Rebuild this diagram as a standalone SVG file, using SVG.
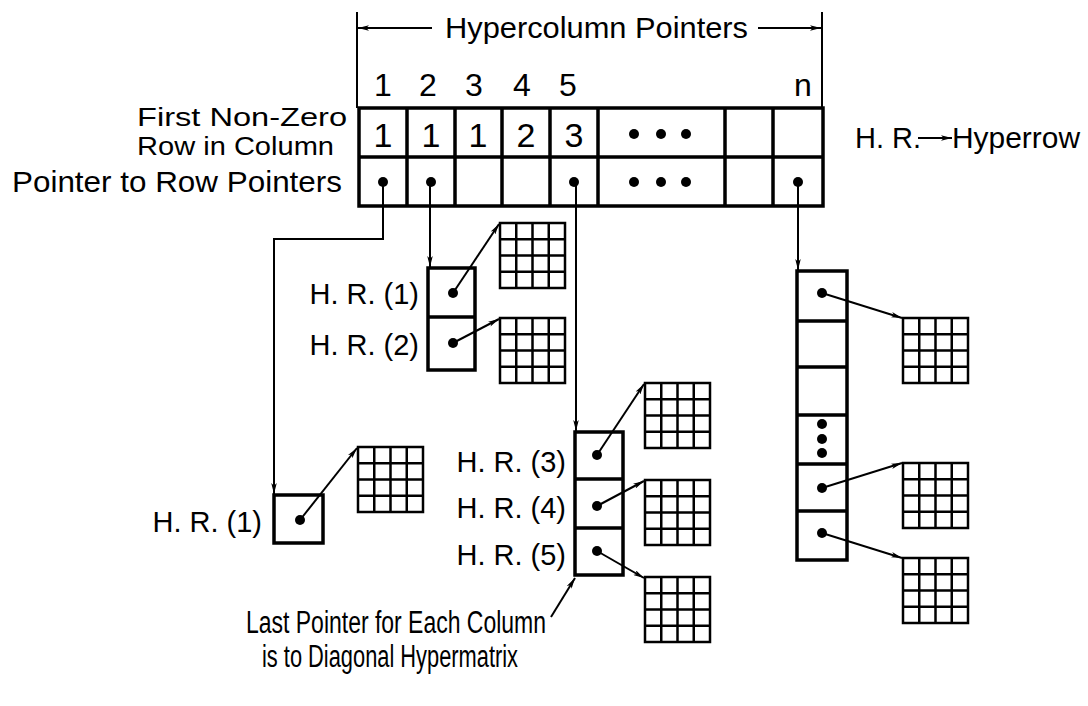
<svg xmlns="http://www.w3.org/2000/svg" width="1088" height="706" viewBox="0 0 1088 706">
<style>
text{font-family:"Liberation Sans",Arial,sans-serif;fill:#000}
.lbl{font-size:29px}
.sm{font-size:26px}
.num{font-size:32px}
.tnum{font-size:34px;text-anchor:middle}
.hnum{text-anchor:middle}
.box{fill:none;stroke:#000;stroke-width:3.5}
.tbl{fill:none;stroke:#000;stroke-width:3.5}
.ln{fill:none;stroke:#000;stroke-width:2}
.arw{fill:none;stroke:#000;stroke-width:2;marker-end:url(#ah)}
.dot{fill:#000}
.g{fill:none;stroke:#000;stroke-width:2.5}
</style>
<defs>
<marker id="ah" viewBox="0 0 20 10" refX="20" refY="5" markerWidth="11" markerHeight="5.5" orient="auto" markerUnits="userSpaceOnUse">
<path d="M0,0 L20,5 L0,10 L5,5 Z" fill="#000"/>
</marker>
<g id="grid">
<rect class="g" x="0" y="0" width="65" height="65" stroke-width="3.5"/>
<path class="g" d="M16.25,0V65M32.5,0V65M48.75,0V65M0,16.25H65M0,32.5H65M0,48.75H65"/>
</g>
</defs>
<rect width="1088" height="706" fill="#fff"/>

<g id="header">
<path class="ln" d="M357,12V108M822,12V108"/>
<path class="arw" d="M432,28H358"/>
<path class="arw" d="M758,28H821"/>
<text class="lbl" x="445" y="38" textLength="303" lengthAdjust="spacingAndGlyphs">Hypercolumn Pointers</text>
<g class="num">
<text class="hnum" x="383" y="96">1</text>
<text class="hnum" x="428" y="96">2</text>
<text class="hnum" x="474" y="96">3</text>
<text class="hnum" x="522" y="96">4</text>
<text class="hnum" x="568" y="96">5</text>
<text class="hnum" x="803" y="96">n</text>
</g>
</g>

<g id="row-labels">
<text class="sm" x="347" y="126" text-anchor="end" textLength="210" lengthAdjust="spacingAndGlyphs">First Non-Zero</text>
<text class="sm" x="334" y="155" text-anchor="end" textLength="197" lengthAdjust="spacingAndGlyphs">Row in Column</text>
<text class="lbl" x="342" y="192" text-anchor="end" textLength="330" lengthAdjust="spacingAndGlyphs">Pointer to Row Pointers</text>
</g>

<g id="legend">
<text class="lbl" x="855" y="148">H. R.</text>
<path class="arw" d="M918,138H952"/>
<text class="lbl" x="952" y="148" textLength="128" lengthAdjust="spacingAndGlyphs">Hyperrow</text>
</g>

<g id="table">
<rect class="tbl" x="359" y="108" width="464" height="98"/>
<path class="tbl" d="M359,157H823M407,108V206M455,108V206M502,108V206M550,108V206M598,108V206M725,108V206M773,108V206"/>
<text class="tnum" x="383" y="147">1</text>
<text class="tnum" x="431" y="147">1</text>
<text class="tnum" x="478" y="147">1</text>
<text class="tnum" x="526" y="147">2</text>
<text class="tnum" x="574" y="147">3</text>
<circle class="dot" cx="634" cy="134" r="5"/>
<circle class="dot" cx="661" cy="134" r="5"/>
<circle class="dot" cx="686" cy="134" r="5"/>
<circle class="dot" cx="383" cy="182" r="5"/>
<circle class="dot" cx="431" cy="182" r="5"/>
<circle class="dot" cx="574" cy="182" r="5"/>
<circle class="dot" cx="634" cy="182" r="5"/>
<circle class="dot" cx="661" cy="182" r="5"/>
<circle class="dot" cx="686" cy="182" r="5"/>
<circle class="dot" cx="798" cy="182" r="5"/>
</g>

<g id="col1-rows">
<rect class="box" x="274" y="495" width="49" height="48"/>
<circle class="dot" cx="300" cy="520" r="5"/>
<text class="lbl" x="262" y="532" text-anchor="end">H. R. (1)</text>
<use href="#grid" x="358" y="447"/>
</g>

<g id="col2-rows">
<rect class="box" x="428" y="268" width="47" height="102"/>
<path class="box" d="M428,317H475"/>
<circle class="dot" cx="453" cy="293" r="5"/>
<circle class="dot" cx="453" cy="343" r="5"/>
<text class="lbl" x="419" y="304" text-anchor="end">H. R. (1)</text>
<text class="lbl" x="419" y="355" text-anchor="end">H. R. (2)</text>
<use href="#grid" x="500" y="223"/>
<use href="#grid" x="500" y="318"/>
</g>

<g id="col5-rows">
<rect class="box" x="575" y="432" width="48" height="143"/>
<path class="box" d="M575,479H623M575,528H623"/>
<circle class="dot" cx="597" cy="455" r="5"/>
<circle class="dot" cx="597" cy="506" r="5"/>
<circle class="dot" cx="597" cy="551" r="5"/>
<text class="lbl" x="566" y="472" text-anchor="end">H. R. (3)</text>
<text class="lbl" x="566" y="518" text-anchor="end">H. R. (4)</text>
<text class="lbl" x="566" y="565" text-anchor="end">H. R. (5)</text>
<use href="#grid" x="645" y="383"/>
<use href="#grid" x="645" y="480"/>
<use href="#grid" x="645" y="577"/>
</g>

<g id="coln-rows">
<rect class="box" x="797" y="271" width="50" height="289"/>
<path class="box" d="M797,321H847M797,367H847M797,415H847M797,464H847M797,511H847"/>
<circle class="dot" cx="822" cy="293" r="5"/>
<circle class="dot" cx="822" cy="424" r="5"/>
<circle class="dot" cx="822" cy="439" r="5"/>
<circle class="dot" cx="822" cy="453" r="5"/>
<circle class="dot" cx="822" cy="488" r="5"/>
<circle class="dot" cx="822" cy="533" r="5"/>
<use href="#grid" x="903" y="318"/>
<use href="#grid" x="903" y="463"/>
<use href="#grid" x="903" y="558"/>
</g>

<g id="note">
<text x="246" y="633" font-size="31" textLength="300" lengthAdjust="spacingAndGlyphs">Last Pointer for Each Column</text>
<text x="262" y="667" font-size="31" textLength="256" lengthAdjust="spacingAndGlyphs">is to Diagonal Hypermatrix</text>
</g>

<g id="connectors">
<path class="arw" d="M383,182V239H274V494"/>
<path class="arw" d="M430,182V267"/>
<path class="arw" d="M576,182V431"/>
<path class="arw" d="M798,182V270"/>
<path class="arw" d="M300,520L357,448"/>
<path class="arw" d="M453,293L499,224"/>
<path class="arw" d="M453,343L499,319"/>
<path class="arw" d="M597,455L644,384"/>
<path class="arw" d="M597,506L644,481"/>
<path class="arw" d="M597,551L644,578"/>
<path class="arw" d="M822,293L902,318"/>
<path class="arw" d="M822,488L902,463"/>
<path class="arw" d="M822,533L902,558"/>
<path class="arw" d="M551,617L575,578"/>
</g>
</svg>
